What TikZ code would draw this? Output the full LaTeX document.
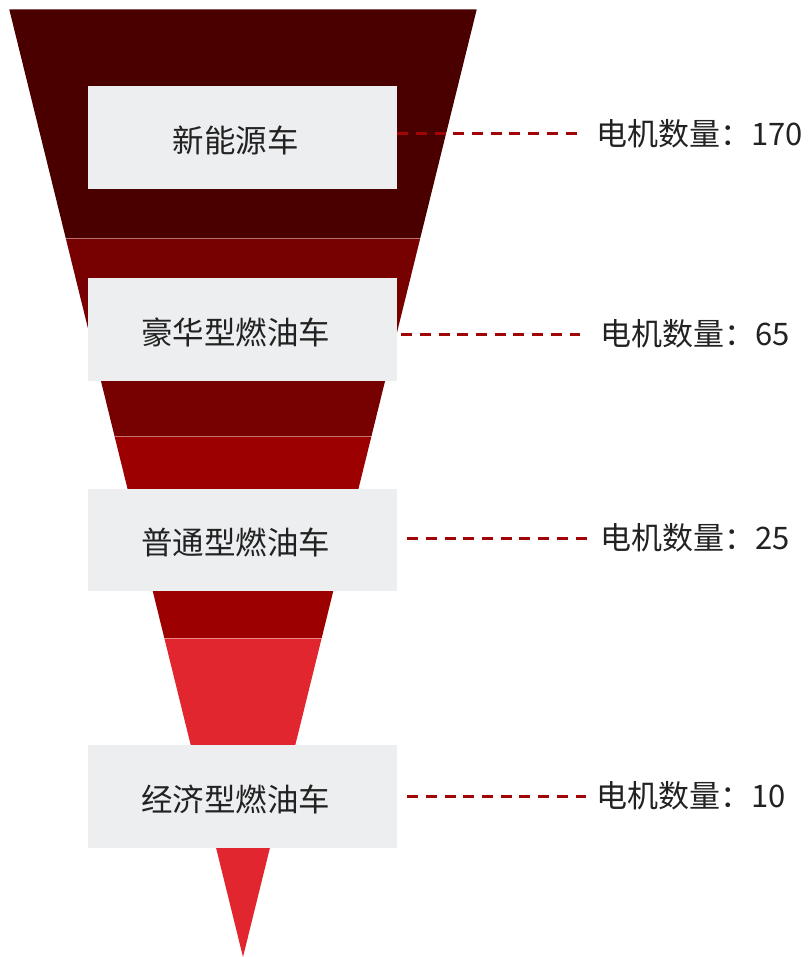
\documentclass[tikz,border=0pt]{standalone}
\usepackage{fontspec}
\setmainfont{Noto Sans CJK SC}
\definecolor{bandA}{HTML}{4B0000}
\definecolor{bandB}{HTML}{770000}
\definecolor{bandC}{HTML}{9C0000}
\definecolor{bandD}{HTML}{E12630}
\definecolor{boxgray}{HTML}{EDEEF0}
\definecolor{textdark}{HTML}{222222}
\definecolor{leadred}{HTML}{A00606}
\begin{document}
\begin{tikzpicture}[x=1pt,y=-1pt,
  box/.style={fill=boxgray, minimum width=309pt, minimum height=103pt, inner sep=0pt},
  boxtxt/.style={inner sep=0pt, font=\fontsize{31.5}{36}\selectfont, text=textdark},
  lbl/.style={anchor=west, inner sep=0pt, font=\fontsize{31}{36}\selectfont, text=textdark},
  lead/.style={draw=leadred, line width=3pt, dash pattern=on 11pt off 7.7pt},
  sep/.style={draw=white, draw opacity=0.45, line width=0.7pt}]
\useasboundingbox (0,0) rectangle (810,957);
% funnel bands
\fill[bandA] (9.3,9.5) -- (476.7,9.5) -- (420.3,238) -- (65.7,238) -- cycle;
\fill[bandB] (65.7,238) -- (420.3,238) -- (371.5,436) -- (114.5,436) -- cycle;
\fill[bandC] (114.5,436) -- (371.5,436) -- (321.7,638) -- (164.3,638) -- cycle;
\fill[bandD] (164.3,638) -- (321.7,638) -- (243,957) -- cycle;
\draw[sep] (65.7,238) -- (420.3,238);
\draw[sep] (114.5,436) -- (371.5,436);
\draw[sep] (164.3,638) -- (321.7,638);
% boxes
\node[box] (b1) at (242.5,137.5) {};
\node[box] (b2) at (242.5,329.5) {};
\node[box, minimum height=102pt] (b3) at (242.5,540) {};
\node[box] (b4) at (242.5,796.5) {};
\node[boxtxt] (t1) at ([xshift=-7pt,yshift=-2.5pt]b1.center) {新能源车};
\node[boxtxt] (t2) at ([xshift=-7pt,yshift=-2.5pt]b2.center) {豪华型燃油车};
\node[boxtxt] (t3) at ([xshift=-7pt,yshift=-2.5pt]b3.center) {普通型燃油车};
\node[boxtxt] (t4) at ([xshift=-7pt,yshift=-2.5pt]b4.center) {经济型燃油车};
% labels
\node[lbl] (l1) at (596,134) {电机数量：170};
\node[lbl] (l2) at (600,334) {电机数量：65};
\node[lbl] (l3) at (600,538) {电机数量：25};
\node[lbl] (l4) at (596,796) {电机数量：10};
% leaders
\draw[lead] (b1.east |- l1.west) -- ([xshift=-19pt]l1.west);
\draw[lead] ([xshift=4pt]b2.east |- l2.west) -- ([xshift=-20pt]l2.west);
\draw[lead] ([xshift=10pt]b3.east |- l3.west) -- ([xshift=-13pt]l3.west);
\draw[lead] ([xshift=10pt]b4.east |- l4.west) -- ([xshift=-10pt]l4.west);
\end{tikzpicture}
\end{document}
